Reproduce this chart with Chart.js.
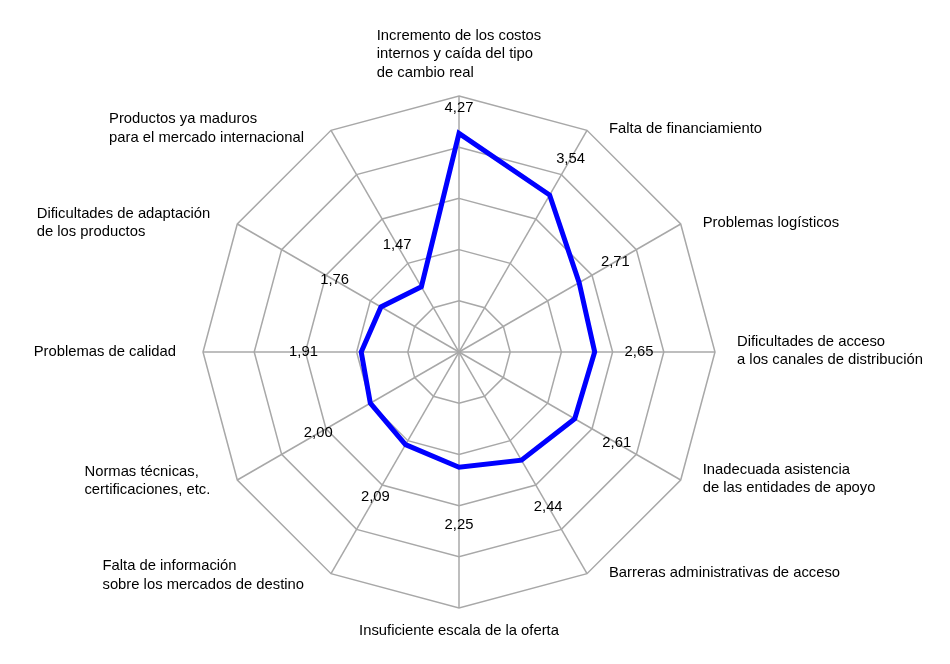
<!DOCTYPE html>
<html lang="es">
<head>
    <meta charset="UTF-8">
    <title>Obstáculos a la exportación</title>
    <script src="https://cdn.jsdelivr.net/npm/chart.js"></script>
    <style>
        html, body { margin: 0; padding: 0; background: #fff; }
        #wrap { width: 950px; height: 664px; }
    </style>
</head>
<body>
    <div id="wrap"><canvas id="radarChart"></canvas></div>

    <script>
        // Ejes (categorías), con sus saltos de línea
        const categories = [
            ['Incremento de los costos', 'internos y caída del tipo', 'de cambio real'],
            ['Falta de financiamiento'],
            ['Problemas logísticos'],
            ['Dificultades de acceso', 'a los canales de distribución'],
            ['Inadecuada asistencia', 'de las entidades de apoyo'],
            ['Barreras administrativas de acceso'],
            ['Insuficiente escala de la oferta'],
            ['Falta de información', 'sobre los mercados de destino'],
            ['Normas técnicas,', 'certificaciones, etc.'],
            ['Problemas de calidad'],
            ['Dificultades de adaptación', 'de los productos'],
            ['Productos ya maduros', 'para el mercado internacional']
        ];
        const values = [4.27, 3.54, 2.71, 2.65, 2.61, 2.44, 2.25, 2.09, 2.00, 1.91, 1.76, 1.47];
        const scaleMin = 0;
        const scaleMax = 5;
        const scaleStep = 1;

        const FONT = '14.8px "Liberation Sans", Arial, sans-serif';
        const LINE_H = 18.5;
        const GRID = '#A8A8A8';

        const fmt = v => v.toFixed(2).replace('.', ',');

        // value labels + category labels, placed from the radial scale
        const labelPlugin = {
            id: 'radarLabels',
            afterDatasetsDraw(chart) {
                const r = chart.scales.r;
                const ctx = chart.ctx;
                ctx.save();
                ctx.font = FONT;
                ctx.fillStyle = '#000';
                ctx.textAlign = 'center';
                ctx.textBaseline = 'middle';
                values.forEach((v, i) => {
                    const a = r.getIndexAngle(i);
                    // labels sit a bit further out on the lower-left side
                    const off = 51 - 9.5 * Math.cos(a - Math.PI / 4);
                    const dist = Math.min(r.getDistanceFromCenterForValue(v) + off, r.drawingArea - 12);
                    const p = r.getPointPosition(i, dist);
                    ctx.fillText(fmt(v), p.x, p.y);
                });

                ctx.textAlign = 'left';
                categories.forEach((lines, i) => {
                    const v = r.getPointPosition(i, r.drawingArea);
                    const a = r.getIndexAngle(i);
                    const s = Math.sin(a), c = Math.cos(a);
                    const w = Math.max(...lines.map(l => ctx.measureText(l).width));
                    const h = lines.length * LINE_H;
                    let left, top;
                    if (Math.abs(s) < 0.01) {
                        left = v.x - w / 2;
                        top = c > 0 ? v.y - 14 - h : v.y + 14;
                    } else {
                        left = s > 0 ? v.x + 22 : v.x - 27 - w;
                        top = v.y - h / 2 - (s > 0 ? 1 : 2 * c);
                    }
                    lines.forEach((l, k) => ctx.fillText(l, left, top + LINE_H * (k + 0.5)));
                });
                ctx.restore();
            }
        };

        new Chart(document.getElementById('radarChart'), {
            type: 'radar',
            data: {
                labels: categories,
                datasets: [{
                    label: 'Obstáculos',
                    data: values,
                    borderColor: '#0000FF',
                    borderWidth: 5,
                    borderJoinStyle: 'miter',
                    fill: false,
                    pointRadius: 0,
                    pointHoverRadius: 0,
                    tension: 0
                }]
            },
            options: {
                responsive: true,
                maintainAspectRatio: false,
                animation: false,
                layout: { padding: { top: 96, bottom: 56, left: 0, right: 32 } },
                plugins: {
                    legend: { display: false },
                    tooltip: { enabled: false }
                },
                scales: {
                    r: {
                        min: scaleMin,
                        max: scaleMax,
                        ticks: { stepSize: scaleStep, display: false },
                        grid: { color: GRID, lineWidth: 1.5 },
                        angleLines: { color: GRID, lineWidth: 1.5 },
                        pointLabels: { display: false }
                    }
                }
            },
            plugins: [labelPlugin]
        });
    </script>
</body>
</html>
